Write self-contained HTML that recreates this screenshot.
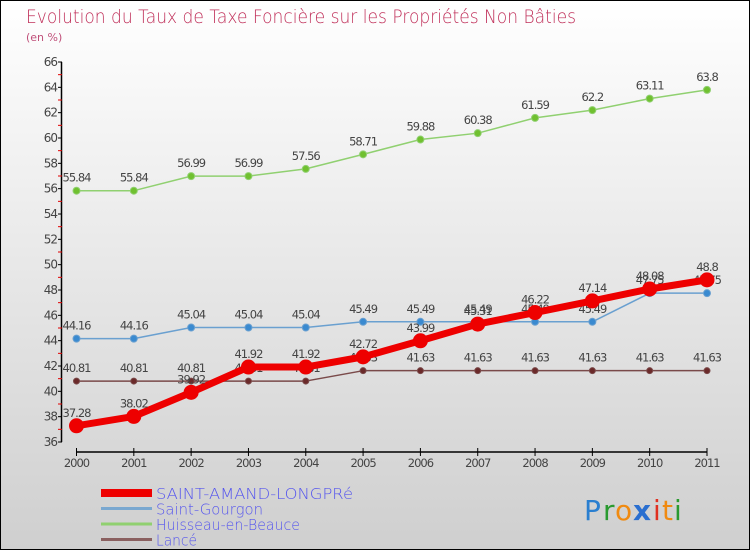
<!DOCTYPE html>
<html><head><meta charset="utf-8"><style>
body{margin:0;}
#wrap{width:748px;height:548px;border:1px solid #000;background:linear-gradient(#ffffff,#cfcfcf);position:relative;font-family:"DejaVu Sans","Liberation Sans",sans-serif;overflow:hidden}
svg{position:absolute;left:0;top:0}
</style></head><body>
<div id="wrap">
<svg id="c" width="750" height="550">
<text x="25" y="22" font-size="19" fill="#c0305a" font-family="DejaVu Sans" font-weight="200" textLength="550" lengthAdjust="spacingAndGlyphs">Evolution du Taux de Taxe Foncière sur les Propriétés Non Bâties</text>
<text x="25" y="40" font-size="11" fill="#c0507a">(en %)</text>
<g id="axes"></g><g id="series"></g><g id="legend"></g>
<g font-family="DejaVu Sans" font-size="28">
<text x="583" y="519" fill="#2a7fd0">P</text><text x="602" y="519" fill="#2a9a30">r</text><text x="614" y="519" fill="#f08a10">o</text><text x="632" y="519" fill="#2a6fd0" font-weight="bold">x</text><text x="652" y="519" fill="#e03020">i</text><text x="661" y="519" fill="#f08a10">t</text><text x="673" y="519" fill="#2a9a30">i</text>
</g>
</svg></div>
<script>
const years=[2000,2001,2002,2003,2004,2005,2006,2007,2008,2009,2010,2011];
const samValues=[37.28,38.02,39.92,41.92,41.92,42.72,43.99,45.31,46.22,47.14,48.08,48.8];
const gourgonValues=[44.16,44.16,45.04,45.04,45.04,45.49,45.49,45.49,45.49,45.49,47.75,47.75];
const huisseauValues=[55.84,55.84,56.99,56.99,57.56,58.71,59.88,60.38,61.59,62.2,63.11,63.8];
const lanceValues=[40.81,40.81,40.81,40.81,40.81,41.63,41.63,41.63,41.63,41.63,41.63,41.63];
const yTicks=[36,38,40,42,44,46,48,50,52,54,56,58,60,62,64,66];
const seriesNames=["SAINT-AMAND-LONGPRé","Saint-Gourgon","Huisseau-en-Beauce","Lancé"];
const NS="http://www.w3.org/2000/svg";
const X0=75.5,X1=706,Y0=441,Y1=61,YMIN=36,YMAX=66;
function xs(i){return X0+(X1-X0)*i/(years.length-1);}
function ys(v){return Y0-(v-YMIN)*(Y0-Y1)/(YMAX-YMIN);}
function mk(tag,attrs,parent){const e=document.createElementNS(NS,tag);for(const k in attrs)e.setAttribute(k,attrs[k]);parent.appendChild(e);return e;}
const ax=document.getElementById('axes');
let l=mk('line',{x1:60.5,x2:60.5,y1:Y1,y2:Y0,stroke:'#000','stroke-width':1.5},ax);


l=mk('line',{x1:X0,x2:X1,y1:451,y2:451,stroke:'#000','stroke-width':1.5},ax);


yTicks.forEach(v=>{
 mk('line',{x1:57,x2:61,y1:ys(v),y2:ys(v),stroke:'#000'},ax);
 if(v<YMAX) mk('line',{x1:57,x2:61,y1:ys(v+1),y2:ys(v+1),stroke:'#e00000'},ax);
 const t=mk('text',{x:56,y:ys(v)+4,'text-anchor':'end','font-size':12,fill:'#444','letter-spacing':'-1'},ax);
 t.textContent=v;
 
 
});
years.forEach((y,i)=>{
 mk('line',{x1:xs(i),x2:xs(i),y1:447,y2:455,stroke:'#000'},ax);
 const t=mk('text',{x:xs(i),y:466,'text-anchor':'middle','font-size':11.5,fill:'#444','letter-spacing':'-1'},ax);
 t.textContent=y;
 
 
});
const sg=document.getElementById('series');
function series(vals,color,dot,w,r,name){
 const g=mk('g',{},sg);
 
 
 mk('polyline',{points:vals.map((v,i)=>xs(i)+','+ys(v)).join(' '),fill:'none',stroke:color,'stroke-width':w,'stroke-linejoin':'round'},g);
 vals.forEach((v,i)=>{
  const c=mk('circle',{cx:xs(i),cy:ys(v),r:r,fill:dot,stroke:color,'stroke-width':1},g);
  
  
  const t=mk('text',{x:xs(i),y:ys(v)-9,'text-anchor':'middle','font-size':11.5,fill:'#444','letter-spacing':'-1'},g);
  t.textContent=v;
  
  
 });
}
series(lanceValues,'#7a4a4a','#6b2a2a',1.5,3,'series-lance');
series(gourgonValues,'#6aa0d0','#3a8ad0',1.5,3.5,'series-saint-gourgon');
series(huisseauValues,'#90d070','#70c030',1.5,3.5,'series-huisseau');
series(samValues,'#ee0000','#ee0000',7,7,'series-saint-amand');
const lg=document.getElementById('legend');
const lc=['#ee0000','#7aa8d0','#90d070','#8a6060'],lw=[8,3,3,3],tl=[197,107,144,41];
seriesNames.forEach((n,i)=>{
 const y=492+i*15.5;
 const g=mk('g',{},lg);
 
 
 mk('line',{x1:100,x2:151,y1:y,y2:y,stroke:lc[i],'stroke-width':lw[i]},g);
 const t=mk('text',{x:155,y:y+6,'font-size':15,fill:'#5555ee',textLength:tl[i],lengthAdjust:'spacingAndGlyphs','font-weight':'300'},g);
 t.textContent=n;
});
</script>
</body></html>
